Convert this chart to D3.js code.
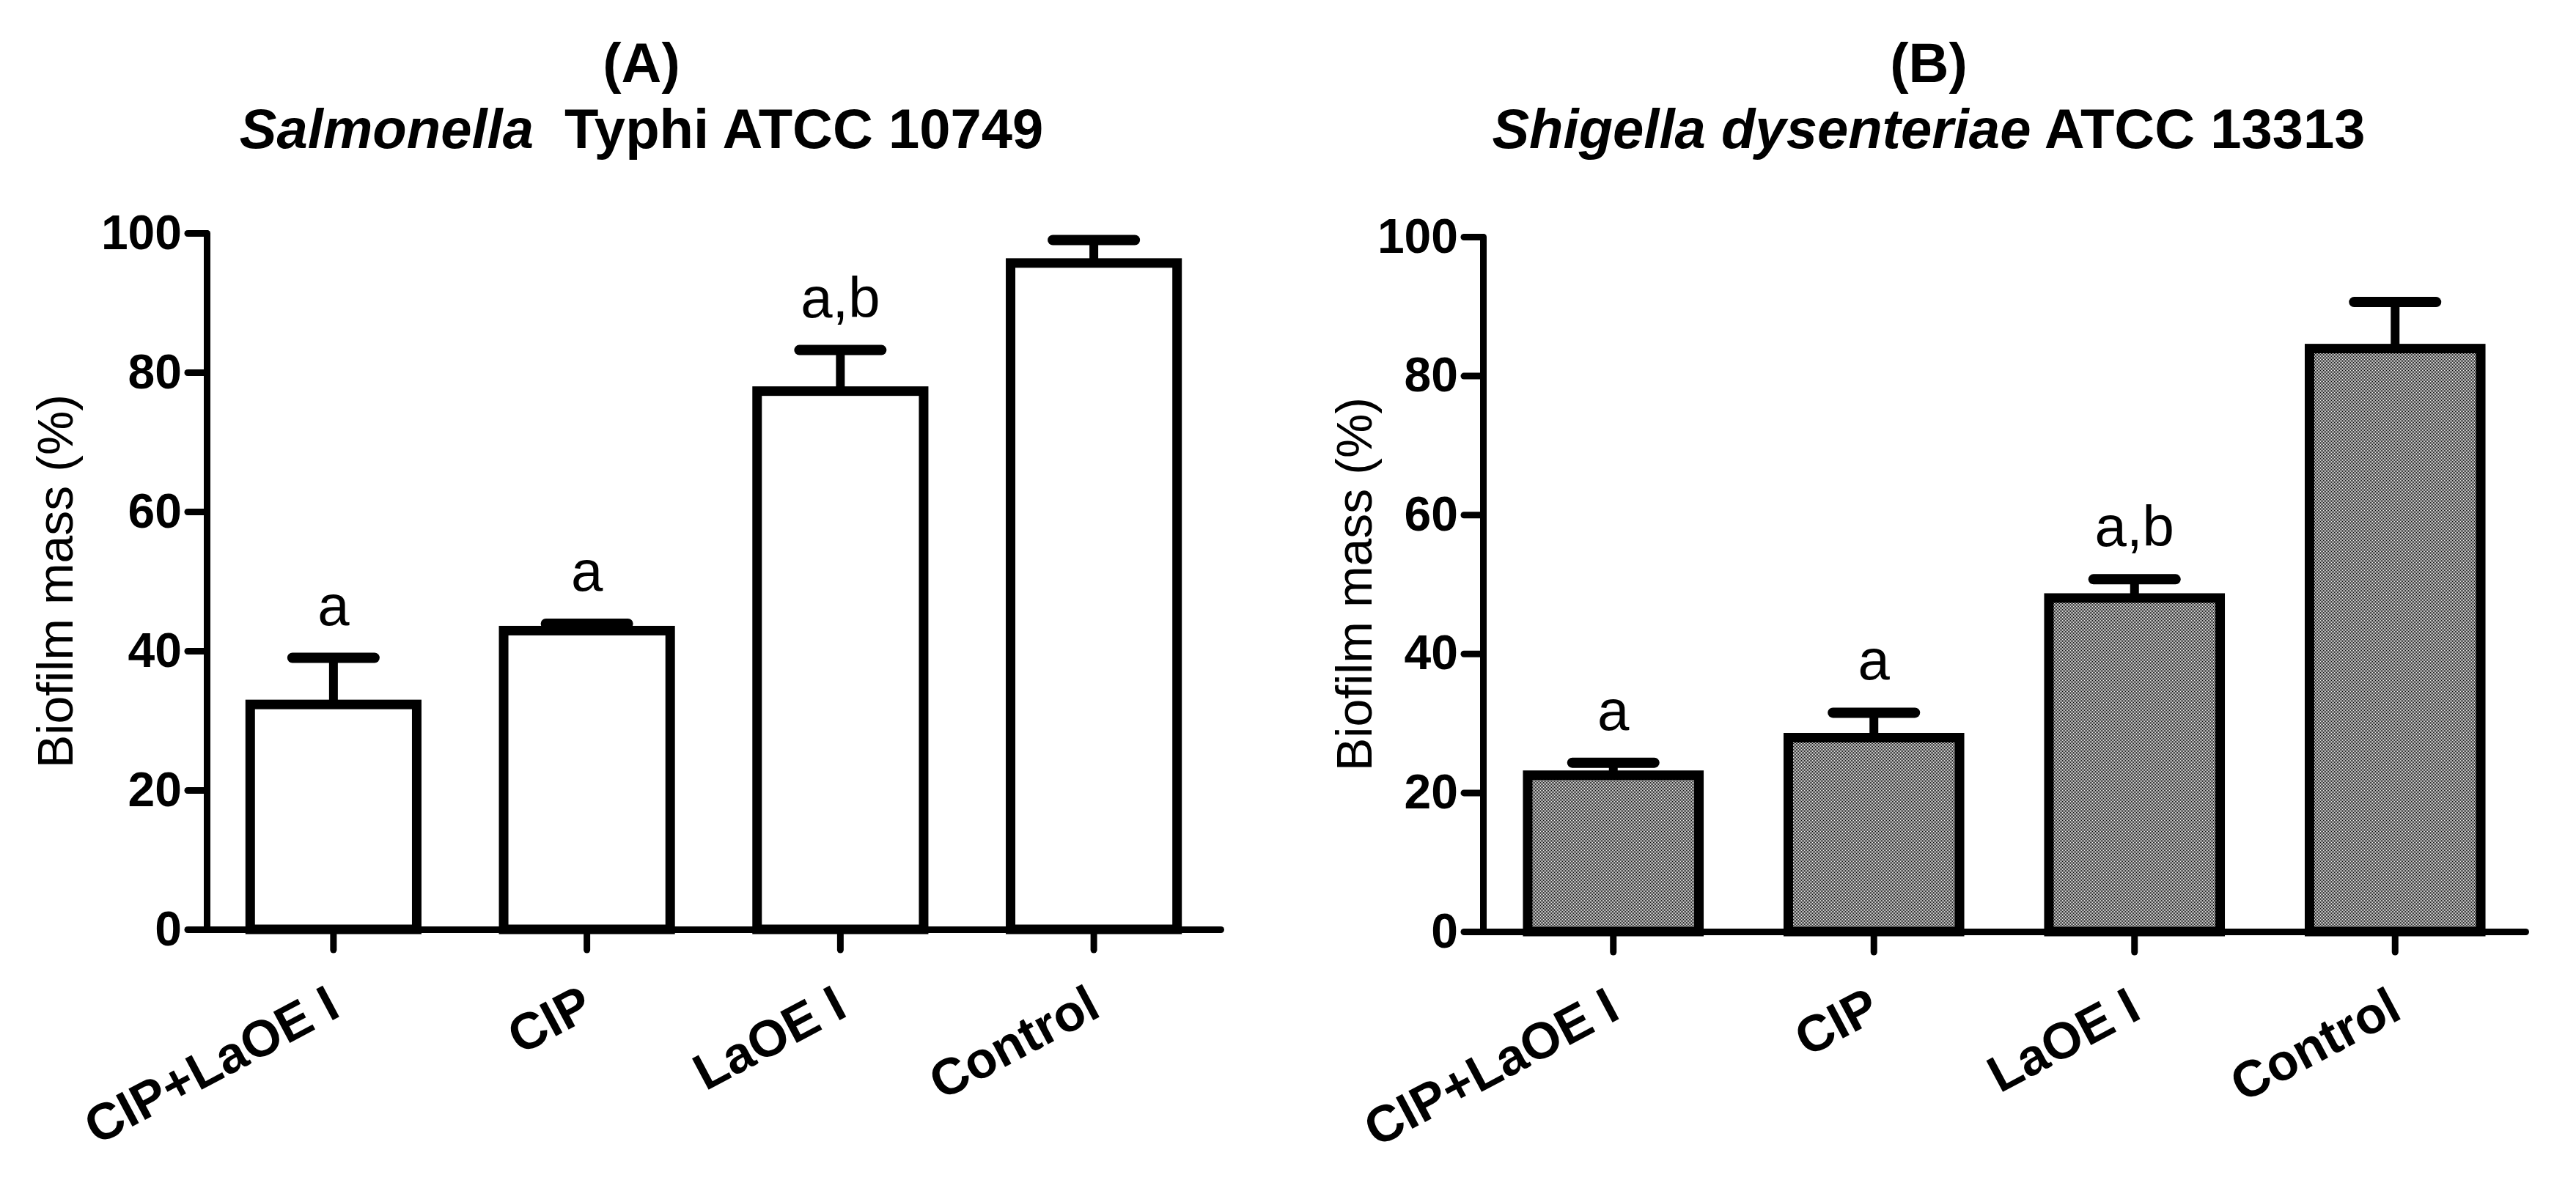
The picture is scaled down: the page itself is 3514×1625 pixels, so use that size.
<!DOCTYPE html>
<html>
<head>
<meta charset="utf-8">
<script src="https://cdn.jsdelivr.net/npm/d3@7"></script>
<style>
  body { margin: 0; background: #fff; }
  svg { display: block; font-family: "Liberation Sans", Arial, sans-serif; }
</style>
</head>
<body>
<div id="chart"></div>
<script>
// data
var categories = ["CIP+LaOE I", "CIP", "LaOE I", "Control"];
var yTicks = [0, 20, 40, 60, 80, 100];

// (A) Salmonella Typhi
var salmonellaMean = [32.3, 42.9, 77.3, 95.7];
var salmonellaErr = [6.7, 1.0, 5.9, 3.3];
var salmonellaSig = ["a", "a", "a,b", ""];

// (B) Shigella dysenteriae
var shigellaMean = [22.5, 27.9, 48.0, 83.9];
var shigellaErr = [1.8, 3.6, 2.7, 6.7];
var shigellaSig = ["a", "a", "a,b", ""];

var svgWidth = 3514;
var svgHeight = 1625;

var svg = d3.select("#chart")
  .append("svg")
  .attr("width", svgWidth)
  .attr("height", svgHeight);

svg.append("rect")
  .attr("width", svgWidth)
  .attr("height", svgHeight)
  .attr("fill", "#fff");

// 1px checkerboard fill used on panel B
var pat = svg.append("defs").append("pattern")
  .attr("id", "dither")
  .attr("width", 2)
  .attr("height", 2)
  .attr("patternUnits", "userSpaceOnUse");
pat.append("rect").attr("width", 2).attr("height", 2).attr("fill", "#fff");
pat.append("rect").attr("x", 0).attr("y", 0).attr("width", 1).attr("height", 1).attr("fill", "#000");
pat.append("rect").attr("x", 1).attr("y", 1).attr("width", 1).attr("height", 1).attr("fill", "#000");

function drawPanel(p) {
  var g = svg.append("g");

  var x = d3.scaleBand()
    .domain(categories)
    .range([p.left, p.right])
    .paddingInner(0.343)
    .paddingOuter(0.1715);

  var y = d3.scaleLinear()
    .domain([0, 100])
    .range([p.bottom, p.top]);

  var rows = categories.map(function(c, i) {
    return { cat: c, mean: p.mean[i], err: p.err[i], sig: p.sig[i] };
  });

  // error bars (upper only)
  var eb = g.selectAll(".err")
    .data(rows)
    .enter()
    .append("g")
    .attr("class", "err");

  eb.append("line")
    .attr("x1", d => x(d.cat) + x.bandwidth() / 2)
    .attr("x2", d => x(d.cat) + x.bandwidth() / 2)
    .attr("y1", d => y(d.mean))
    .attr("y2", d => y(d.mean + d.err))
    .attr("stroke", "#000")
    .attr("stroke-width", 12);

  eb.append("line")
    .attr("x1", d => x(d.cat) + x.bandwidth() / 2 - 56)
    .attr("x2", d => x(d.cat) + x.bandwidth() / 2 + 56)
    .attr("y1", d => y(d.mean + d.err))
    .attr("y2", d => y(d.mean + d.err))
    .attr("stroke", "#000")
    .attr("stroke-width", 14)
    .attr("stroke-linecap", "round");

  // bars
  g.selectAll(".bar")
    .data(rows)
    .enter()
    .append("rect")
    .attr("class", "bar")
    .attr("x", d => x(d.cat))
    .attr("width", x.bandwidth())
    .attr("y", d => y(d.mean))
    .attr("height", d => y(0) - y(d.mean))
    .attr("fill", p.fill)
    .attr("stroke", "#000")
    .attr("stroke-width", 13);

  // significance letters
  g.selectAll(".sig")
    .data(rows)
    .enter()
    .append("text")
    .attr("class", "sig")
    .attr("x", d => x(d.cat) + x.bandwidth() / 2)
    .attr("y", d => y(d.mean + d.err) - 45)
    .attr("text-anchor", "middle")
    .style("font-size", "78px")
    .text(d => d.sig);

  // y axis
  var yAxis = g.append("g")
    .attr("transform", `translate(${p.left}, 0)`)
    .call(d3.axisLeft(y).tickValues(yTicks).tickSize(26).tickSizeOuter(0).tickPadding(8));

  yAxis.selectAll("text")
    .style("font-size", "66px")
    .style("font-weight", "bold")
    .attr("fill", "#000");

  // x axis
  var xAxis = g.append("g")
    .attr("transform", `translate(0, ${p.bottom})`)
    .call(d3.axisBottom(x).tickSize(28).tickSizeOuter(0));

  xAxis.selectAll("text")
    .attr("x", 0)
    .attr("y", 0)
    .attr("dy", null)
    .attr("text-anchor", "end")
    .attr("transform", "translate(12,117) rotate(-28)")
    .style("font-size", "70px")
    .style("font-weight", "bold")
    .attr("fill", "#000");

  g.selectAll(".domain")
    .attr("stroke", "#000")
    .attr("stroke-width", 9)
    .attr("stroke-linecap", "round");
  g.selectAll(".tick line")
    .attr("stroke", "#000")
    .attr("stroke-width", 9)
    .attr("stroke-linecap", "round");

  // y axis title
  g.append("text")
    .attr("transform", `translate(${p.ylabelX}, ${(p.top + p.bottom) / 2}) rotate(-90)`)
    .attr("text-anchor", "middle")
    .style("font-size", "68px")
    .text("Biofilm mass (%)");

  // panel title
  g.append("text")
    .attr("x", p.titleX)
    .attr("y", 112)
    .attr("text-anchor", "middle")
    .style("font-size", "76px")
    .style("font-weight", "bold")
    .text(p.letter);

  var t2 = g.append("text")
    .attr("x", p.titleX)
    .attr("y", 202)
    .attr("text-anchor", "middle")
    .style("font-size", "76px")
    .style("font-weight", "bold");
  t2.append("tspan")
    .style("font-style", "italic")
    .text(p.species);
  t2.append("tspan")
    .attr("dx", p.gap)
    .text(p.strain);
}

drawPanel({
  left: 282, right: 1665, top: 318, bottom: 1268,
  mean: salmonellaMean, err: salmonellaErr, sig: salmonellaSig,
  fill: "#fff", ylabelX: 99, titleX: 875,
  letter: "(A)", species: "Salmonella", strain: " Typhi ATCC 10749", gap: 21
});

drawPanel({
  left: 2023, right: 3445, top: 323, bottom: 1271,
  mean: shigellaMean, err: shigellaErr, sig: shigellaSig,
  fill: "url(#dither)", ylabelX: 1871, titleX: 2631,
  letter: "(B)", species: "Shigella dysenteriae", strain: " ATCC 13313", gap: 0
});
</script>
</body>
</html>
